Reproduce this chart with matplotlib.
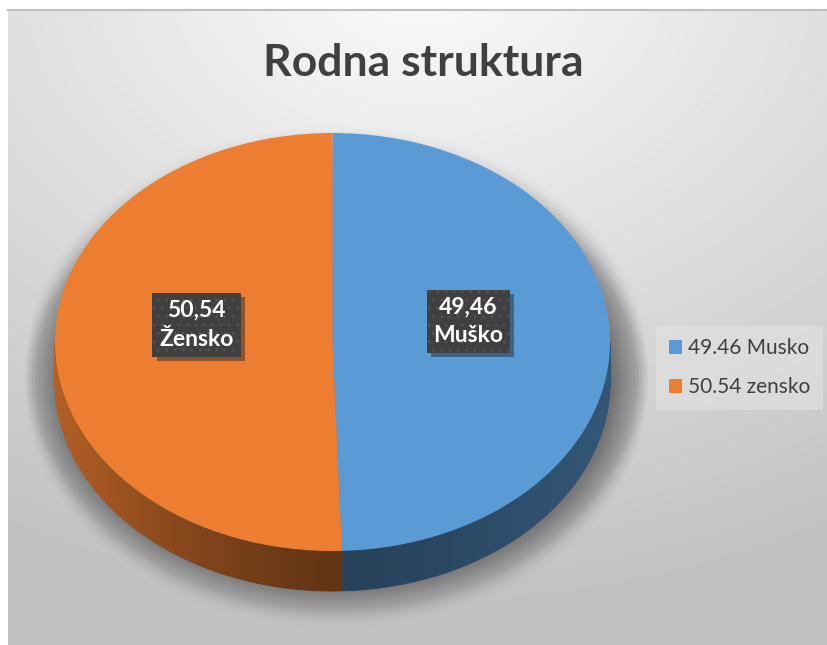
import matplotlib
matplotlib.use("Agg")
import matplotlib.pyplot as plt
import matplotlib.patheffects as pe
from matplotlib.patches import Polygon, Ellipse
import numpy as np

# data
categories = ["Muško", "Žensko"]
values = [49.46, 50.54]
value_labels = ["49,46", "50,54"]
legend_labels = ["49.46 Musko", "50.54 zensko"]
colors = ["#5b9bd5", "#ed7d31"]

FONT = ["Lato", "DejaVu Sans"]
W, H = 827, 645

fig = plt.figure(figsize=(W / 100, H / 100), dpi=100)
fig.patch.set_facecolor("white")

# chart area with soft radial gradient
bg = fig.add_axes([8 / W, 0, 1 - 8 / W, (H - 10) / H])
yy, xx = np.mgrid[0:H - 10, 0:W - 8]
dist = np.hypot((xx - 410) / 820.0, (yy + 40) / 620.0)
shade = np.clip(0.985 - 0.22 * dist, 0.76, 0.985)
bg.imshow(shade, cmap="gray", vmin=0, vmax=1, aspect="auto",
          extent=(0, W - 8, H - 10, 0), interpolation="bilinear")
bg.set_xticks([])
bg.set_yticks([])
for side in ["left", "right", "bottom"]:
    bg.spines[side].set_visible(False)
bg.spines["top"].set_color("#bfbfbf")
bg.spines["top"].set_linewidth(1.5)

# pie axes: box is the top face of the pie
left, right, top, bottom = 55, 610, 133, 551
ax = fig.add_axes([left / W, 1 - bottom / H, (right - left) / W, (bottom - top) / H])
ax.patch.set_alpha(0)
depth = 40 / ((bottom - top) / 2)  # side height in data units

# soft blurred shadow under the pie
for k in range(12):
    grow = 0.011 * k
    for off in np.linspace(0.1, depth + 0.04, 6):
        sh = Ellipse((0.015, -off), 2 * (1.0 + grow), 2 * (1.0 + grow * 1.1),
                     facecolor="#4a4a4a", edgecolor="none", alpha=0.01, zorder=0,
                     clip_on=False)
        ax.add_patch(sh)

wedges, _ = ax.pie(values, colors=colors, startangle=90, counterclock=False,
                   wedgeprops=dict(linewidth=0, zorder=3))
ax.set_aspect("auto")
ax.set_xlim(-1, 1)
ax.set_ylim(-1, 1)
ax.axis("off")
for w in wedges:
    w.set_clip_on(False)

# side wall of the 3D pie, lit from the left
for w, c in zip(wedges, colors):
    t1, t2 = w.theta1 % 360, w.theta2 % 360
    if t2 <= t1:
        t2 += 360
    rgb = np.array(matplotlib.colors.to_rgb(c))
    for lo, hi in [(180, 360), (540, 720)]:
        a0, a1 = max(t1, lo), min(t2, hi)
        if a1 <= a0:
            continue
        angs = np.linspace(a0, a1, 120)
        for s0, s1 in zip(angs[:-1], angs[1:]):
            cm = np.cos(np.radians((s0 + s1) / 2))
            f = 0.42 + 0.34 * max(0, -cm) ** 1.3 + 0.14 * max(0, cm) ** 1.3
            r0, r1 = np.radians(s0), np.radians(s1)
            quad = [(np.cos(r0), np.sin(r0)), (np.cos(r1), np.sin(r1)),
                    (np.cos(r1), np.sin(r1) - depth), (np.cos(r0), np.sin(r0) - depth)]
            ax.add_patch(Polygon(quad, closed=True, facecolor=rgb * f,
                                 edgecolor=rgb * f, linewidth=0.6, zorder=2,
                                 clip_on=False))

# data labels
plt.rcParams["hatch.linewidth"] = 0.5
for w, name, lab in zip(wedges, categories, value_labels):
    mid = np.radians((w.theta1 + w.theta2) / 2)
    x, y = 0.49 * np.cos(mid), 0.49 * np.sin(mid) + 0.09
    t = ax.text(x, y, lab + "\n" + name, ha="center", va="center", color="white",
                fontsize=16.5, fontweight="bold", family=FONT, linespacing=1.45,
                zorder=5,
                bbox=dict(boxstyle="square,pad=0.3", facecolor="#404040",
                          edgecolor="#585858", linewidth=0, hatch=".."))
    t.get_bbox_patch().set_path_effects([pe.SimplePatchShadow(offset=(3, -3), alpha=0.4),
                                         pe.Normal()])

# title
fig.text(423 / W, 1 - 63 / H, "Rodna struktura", ha="center", va="center",
         fontsize=32, fontweight="bold", color="#404040", family=FONT)

# legend
leg = fig.legend(wedges, legend_labels, loc="upper left",
                 bbox_to_anchor=(656 / W, 1 - 326 / H), frameon=True,
                 fancybox=False, prop=dict(family=FONT, size=15),
                 handlelength=0.65, handleheight=0.65, handletextpad=0.3,
                 labelspacing=0.9, borderpad=0.6, borderaxespad=0)
leg.get_frame().set_facecolor("#e3e3e3")
leg.get_frame().set_edgecolor("none")
leg.get_frame().set_alpha(0.6)
for txt in leg.get_texts():
    txt.set_color("#404040")

fig.savefig("out.png", dpi=100)
